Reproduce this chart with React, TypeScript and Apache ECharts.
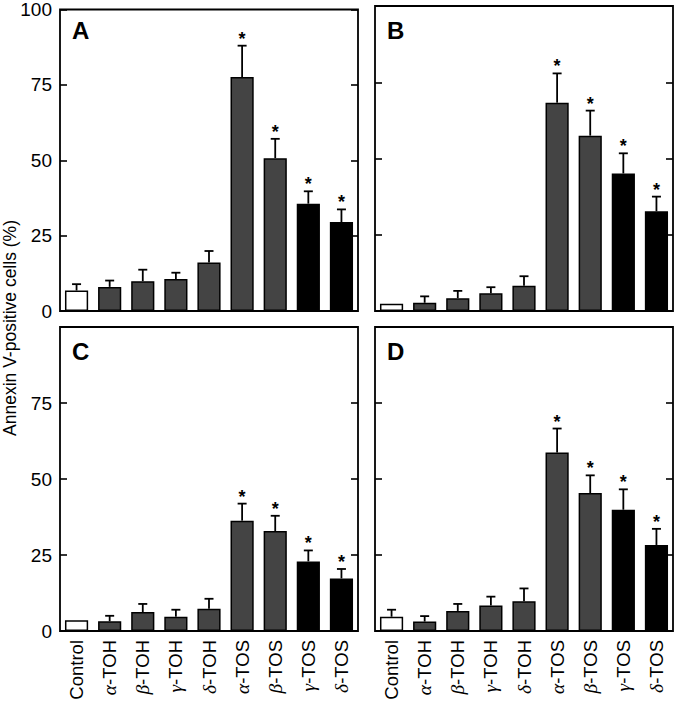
import React, { useEffect, useRef } from "react";
import * as echarts from "echarts";

const categories = ["Control", "α-TOH", "β-TOH", "γ-TOH", "δ-TOH", "α-TOS", "β-TOS", "γ-TOS", "δ-TOS"];
const panelLetters = ["A", "B", "C", "D"];

const valuesA = [6.8, 8.0, 9.9, 10.6, 16.1, 77.6, 50.7, 35.6, 29.5];
const errorsA = [2.1, 2.1, 3.8, 2.1, 3.8, 10.4, 6.4, 4.1, 4.2];
const valuesB = [2.4, 2.7, 4.2, 5.8, 8.3, 68.3, 57.5, 45.1, 32.7];
const errorsB = [0, 2.1, 2.4, 2.0, 3.1, 9.6, 8.2, 6.6, 4.8];
const valuesC = [3.5, 3.2, 6.25, 4.7, 7.3, 36.3, 32.9, 22.9, 17.3];
const errorsC = [0, 1.8, 2.65, 2.3, 3.3, 5.6, 5.0, 3.6, 3.1];
const valuesD = [4.7, 3.1, 6.6, 8.4, 9.8, 58.7, 45.4, 39.9, 28.3];
const errorsD = [2.3, 1.8, 2.3, 2.9, 4.2, 7.9, 5.8, 6.7, 5.3];
const significant = [false, false, false, false, false, true, true, true, true];

const yTicks = [0, 25, 50, 75, 100];
const yTitle = "Annexin V-positive cells (%)";

const panelValues = [valuesA, valuesB, valuesC, valuesD];
const panelErrors = [errorsA, errorsB, errorsC, errorsD];

const barColor = (i: number) => (i === 0 ? "#ffffff" : i >= 7 ? "#000000" : "#444444");

const grids = [
  { left: 60, top: 6, width: 298, height: 305 },
  { left: 375, top: 6, width: 298, height: 305 },
  { left: 60, top: 327, width: 298, height: 304 },
  { left: 375, top: 327, width: 298, height: 304 },
];

export default function App() {
  const ref = useRef<HTMLDivElement>(null);
  useEffect(() => {
    if (!ref.current) return;
    const chart = echarts.init(ref.current, undefined, { renderer: "svg" });
    const sans = "Liberation Sans, Arial, Helvetica, sans-serif";

    const xAxis: any[] = [];
    const yAxis: any[] = [];
    const series: any[] = [];
    const graphic: any[] = [];

    grids.forEach((g, p) => {
      const bottomRow = p >= 2;
      xAxis.push({
        type: "category",
        gridIndex: p,
        data: categories,
        axisLine: { show: false },
        axisTick: { show: false },
        axisLabel: {
          show: bottomRow,
          interval: 0,
          rotate: 90,
          margin: 9,
          fontSize: 18.5,
          fontFamily: sans,
          color: "#000",
          formatter: (v: string) => {
            const c = v.charAt(0);
            if ("αβγδ".includes(c)) return "{g|" + c + "}" + v.slice(1);
            return v;
          },
          rich: {
            g: { fontFamily: "Liberation Serif, Times New Roman, serif", fontStyle: "italic", fontSize: 19.5, color: "#000" },
          },
        },
      });
      const leftCol = p % 2 === 0;
      yAxis.push({
        type: "value",
        gridIndex: p,
        min: yTicks[0],
        max: yTicks[yTicks.length - 1],
        interval: 25,
        position: "left",
        splitLine: { show: false },
        axisLine: { show: false },
        axisTick: { show: true, inside: true, length: 7, lineStyle: { color: "#000", width: 1.6 } },
        axisLabel: {
          show: leftCol,
          showMaxLabel: p === 0,
          margin: 8,
          fontSize: 19,
          fontFamily: sans,
          color: "#000",
        },
      });
      yAxis.push({
        type: "value",
        gridIndex: p,
        min: yTicks[0],
        max: yTicks[yTicks.length - 1],
        interval: 25,
        position: "right",
        splitLine: { show: false },
        axisLine: { show: false },
        axisTick: { show: true, inside: true, length: 7, lineStyle: { color: "#000", width: 1.6 } },
        axisLabel: { show: false },
      });

      const vals = panelValues[p];
      const errs = panelErrors[p];
      series.push({
        type: "bar",
        xAxisIndex: p,
        yAxisIndex: p * 2,
        barCategoryGap: "30%",
        data: vals.map((v, i) => ({
          value: v,
          itemStyle: { color: barColor(i), borderColor: "#000", borderWidth: 1.5 },
        })),
      });
      series.push({
        type: "custom",
        xAxisIndex: p,
        yAxisIndex: p * 2,
        encode: { x: 0, y: [1, 2] },
        data: vals.map((v, i) => [i, v, v + errs[i], significant[i] ? 1 : 0]),
        renderItem: (params: any, api: any) => {
          const i = api.value(0);
          const top = api.coord([i, api.value(1)]);
          const cap = api.coord([i, api.value(2)]);
          const children: any[] = [];
          const style = { stroke: "#000", lineWidth: 1.8 };
          if (api.value(2) > api.value(1)) {
            children.push({ type: "line", shape: { x1: top[0], y1: top[1], x2: cap[0], y2: cap[1] }, style });
            children.push({ type: "line", shape: { x1: cap[0] - 4.5, y1: cap[1], x2: cap[0] + 4.5, y2: cap[1] }, style });
          }
          if (api.value(3)) {
            children.push({
              type: "text",
              x: cap[0],
              y: cap[1] - 7,
              style: { text: "*", fontSize: 18, fontWeight: "bold", fontFamily: sans, fill: "#000", align: "center", verticalAlign: "middle" },
            });
          }
          return { type: "group", children };
        },
      });

      graphic.push({
        type: "text",
        left: g.left + 12,
        top: g.top + 12,
        style: { text: panelLetters[p], fontSize: 24, fontWeight: "bold", fontFamily: sans, fill: "#000" },
      });
    });

    graphic.push({
      type: "text",
      x: 10,
      y: 328,
      rotation: Math.PI / 2,
      style: { text: yTitle, fontSize: 17.5, fontFamily: sans, fill: "#000", align: "center", verticalAlign: "middle" },
    });

    chart.setOption({
      animation: false,
      grid: grids.map((g) => ({ ...g, show: true, borderColor: "#000", borderWidth: 1.8, backgroundColor: "transparent" })),
      xAxis,
      yAxis,
      series,
      graphic,
    });
    return () => chart.dispose();
  }, []);
  return <div ref={ref} style={{ position: "absolute", left: 0, top: 0, width: 675, height: 704 }} />;
}
